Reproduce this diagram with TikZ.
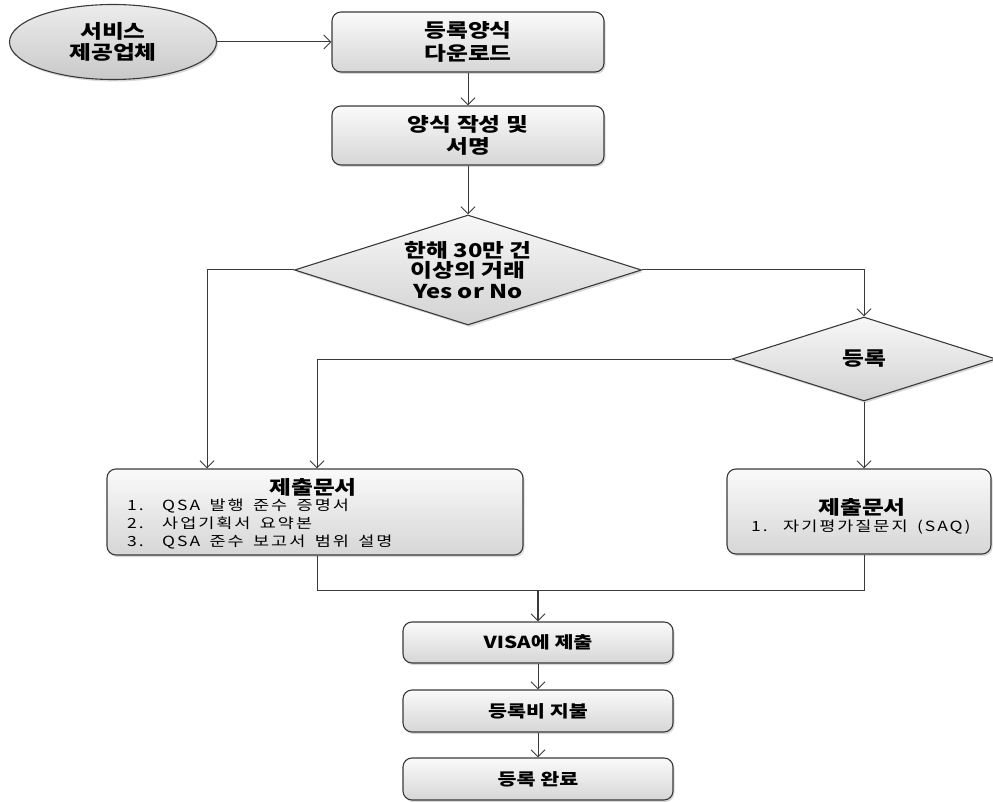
\documentclass[tikz,border=0pt]{standalone}
\usepackage{fontspec}
\setmainfont{Noto Sans CJK KR}
\newfontfamily\listfont[FakeStretch=1.25,LetterSpace=14,WordSpace=1.6]{Noto Sans CJK KR}
\newfontfamily\boldwide[FakeStretch=1.25]{Noto Sans CJK KR}
\usetikzlibrary{shapes.geometric,arrows.meta,shadows,calc}
\definecolor{edge}{HTML}{3A3A3A}
\tikzset{
  base/.style={draw=edge, line width=1.1pt,
    drop shadow={shadow xshift=1.5pt, shadow yshift=-2pt, opacity=0.3},
    font=\boldwide\bfseries\fontsize{16.5}{20}\selectfont, align=center, inner sep=0pt},
  stepbox/.style={base, rounded corners=9pt, top color=gray!4, bottom color=gray!32},
  bigtext/.style={font=\boldwide\bfseries\fontsize{19}{22.5}\selectfont},
  startell/.style={base, ellipse, top color=gray!15, bottom color=gray!42, font=\boldwide\bfseries\fontsize{19}{21.5}\selectfont},
  decision/.style={base, diamond, shape aspect=3, top color=gray!6, bottom color=gray!35, font=\boldwide\bfseries\fontsize{19}{20.5}\selectfont},
  conn/.style={draw=edge, line width=1pt},
  arr/.style={conn, -{Straight Barb[length=7pt,width=14pt,line width=1pt]}},
  titletext/.style={font=\boldwide\bfseries\fontsize{19}{22}\selectfont, inner sep=0pt},
  listtext/.style={font=\listfont\fontsize{14}{18.2}\selectfont, align=left, inner sep=0pt, anchor=west},
}
\begin{document}
\begin{tikzpicture}[x=1pt,y=-1pt]
\fill[white] (0,0) rectangle (993,802);
\useasboundingbox (0,0) rectangle (993,802);

\node[startell, minimum width=207pt, minimum height=75pt] (ell) at (113,42) {서비스\\제공업체};
\node[stepbox, bigtext, minimum width=272pt, minimum height=60pt] (b1) at (468,42) {등록양식\\다운로드};
\node[stepbox, bigtext, minimum width=272pt, minimum height=59pt] (b2) at (468,135.5) {양식 작성 및\\서명};
\node[decision, minimum width=347pt, minimum height=110pt] (d1) at (468,270) {한해 30만 건\\이상의 거래\\Yes or No};
\node[decision, minimum width=264pt, minimum height=84pt] (d2) at (864,359) {등록};

\node[stepbox, minimum width=416pt, minimum height=86pt] (b3) at (315,512) {};
\node[titletext] (b3t) at (313,487) {제출문서};
\node[listtext] (b3l) at (127,524) {\makebox[35pt][l]{1.}QSA 발행 준수 증명서\\\makebox[35pt][l]{2.}사업기획서 요약본\\\makebox[35pt][l]{3.}QSA 준수 보고서 범위 설명};

\node[stepbox, minimum width=264pt, minimum height=85pt] (b4) at (859,511.5) {};
\node[titletext] (b4t) at (862,507) {제출문서};
\node[listtext] (b4l) at (751,527) {\makebox[32pt][l]{1.}자기평가질문지 (SAQ)};

\node[stepbox, minimum width=270pt, minimum height=41pt] (v) at (538,642.5) {VISA에 제출};
\node[stepbox, minimum width=270pt, minimum height=42pt] (p) at (538,711) {등록비 지불};
\node[stepbox, minimum width=270pt, minimum height=42pt] (c) at (538,779) {등록 완료};

\coordinate (m) at (538,590);

\draw[arr] (ell.east) -- (b1.west);
\draw[arr] (b1) -- (b2);
\draw[arr] (b2) -- (d1.north);
\draw[arr] (d1.west) -| ([xshift=-108pt]b3.north);
\draw[arr] (d1.east) -| (d2.north);
\draw[arr] (d2.west) -| ([xshift=2pt]b3.north);
\draw[arr] (d2.south) -- (d2.south |- b4.north);
\draw[conn] ([xshift=2pt]b3.south) |- (m);
\draw[conn] (d2.south |- b4.south) |- (m);
\draw[arr, line width=1.4pt] (m) -- (v);
\draw[arr] (v) -- (p);
\draw[arr] (p) -- (c);
\end{tikzpicture}
\end{document}
